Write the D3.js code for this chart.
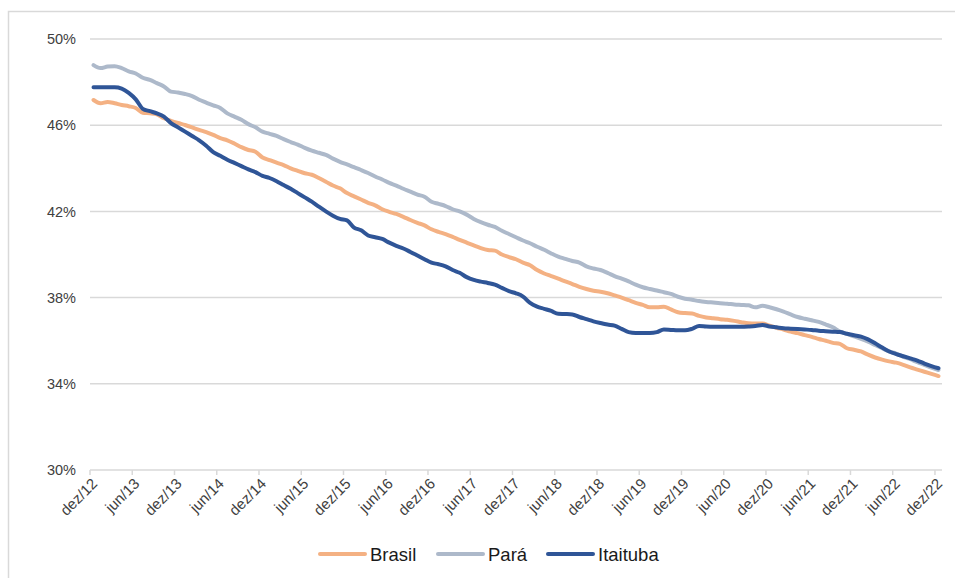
<!DOCTYPE html>
<html>
<head>
<meta charset="utf-8">
<script src="https://cdn.jsdelivr.net/npm/d3@7"></script>
<style>
  body { margin: 0; background: #fff; }
  svg { display: block; font-family: "Liberation Sans", Arial, sans-serif; }
</style>
</head>
<body>
<svg id="chart" width="955" height="578"></svg>
<script>
// monthly values, dez/12 .. dez/22 (121 months), in %
var brasil = [
  47.17, 47.02, 47.08, 47.02, 46.94, 46.88, 46.80, 46.58, 46.55, 46.50,
  46.32, 46.20, 46.10, 46.01, 45.90, 45.78, 45.68, 45.55, 45.40, 45.30,
  45.15, 44.98, 44.85, 44.77, 44.50, 44.38, 44.26, 44.15, 44.00, 43.88,
  43.77, 43.70, 43.55, 43.38, 43.20, 43.07, 42.85, 42.70, 42.55, 42.40,
  42.28, 42.10, 41.98, 41.88, 41.75, 41.60, 41.47, 41.35, 41.17, 41.05,
  40.95, 40.82, 40.68, 40.55, 40.42, 40.30, 40.21, 40.18, 40.00, 39.88,
  39.78, 39.62, 39.50, 39.28, 39.12, 39.00, 38.88, 38.75, 38.63, 38.50,
  38.40, 38.32, 38.27, 38.20, 38.10, 38.00, 37.88, 37.76, 37.66, 37.55,
  37.55, 37.58, 37.45, 37.32, 37.28, 37.26, 37.15, 37.08, 37.04, 37.00,
  36.97, 36.92, 36.86, 36.81, 36.80, 36.80, 36.70, 36.60, 36.52, 36.42,
  36.35, 36.26, 36.18, 36.08, 36.00, 35.90, 35.85, 35.65, 35.58, 35.50,
  35.35, 35.22, 35.12, 35.04, 34.98, 34.88, 34.76, 34.66, 34.56, 34.46,
  34.36
];
var para = [
  48.79, 48.65, 48.72, 48.74, 48.65, 48.50, 48.40, 48.20, 48.10, 47.95,
  47.80, 47.56, 47.52, 47.45, 47.35, 47.18, 47.05, 46.92, 46.80, 46.55,
  46.40, 46.25, 46.05, 45.90, 45.70, 45.60, 45.50, 45.35, 45.22, 45.10,
  44.95, 44.82, 44.72, 44.62, 44.45, 44.30, 44.18, 44.05, 43.92, 43.78,
  43.62, 43.48, 43.32, 43.20, 43.05, 42.92, 42.78, 42.68, 42.45, 42.35,
  42.25, 42.10, 42.00, 41.85, 41.65, 41.50, 41.38, 41.28, 41.10, 40.95,
  40.80, 40.65, 40.52, 40.36, 40.22, 40.05, 39.90, 39.80, 39.70, 39.62,
  39.45, 39.35, 39.28, 39.15, 39.00, 38.88, 38.75, 38.60, 38.48, 38.40,
  38.33, 38.25, 38.17, 38.04, 37.95, 37.90, 37.84, 37.80, 37.77, 37.74,
  37.72, 37.68, 37.66, 37.64, 37.55, 37.62, 37.55, 37.46, 37.35, 37.22,
  37.10, 37.02, 36.95, 36.87, 36.75, 36.62, 36.42, 36.32, 36.20, 36.08,
  35.95, 35.80, 35.65, 35.50, 35.40, 35.25, 35.14, 35.00, 34.88, 34.75,
  34.64
];
var itaituba = [
  47.76, 47.76, 47.76, 47.76, 47.70, 47.50, 47.20, 46.76, 46.65, 46.55,
  46.40, 46.10, 45.90, 45.70, 45.50, 45.30, 45.05, 44.75, 44.58, 44.40,
  44.25, 44.10, 43.95, 43.82, 43.65, 43.55, 43.40, 43.22, 43.05, 42.85,
  42.65, 42.45, 42.22, 42.00, 41.80, 41.65, 41.58, 41.25, 41.12, 40.88,
  40.80, 40.72, 40.55, 40.40, 40.28, 40.12, 39.95, 39.78, 39.62, 39.55,
  39.45, 39.28, 39.15, 38.95, 38.82, 38.74, 38.68, 38.60, 38.45, 38.30,
  38.20, 38.05, 37.75, 37.58, 37.48, 37.38, 37.25, 37.24, 37.22, 37.10,
  37.00, 36.90, 36.82, 36.75, 36.70, 36.55, 36.40, 36.36, 36.36, 36.36,
  36.40, 36.52, 36.50, 36.48, 36.48, 36.55, 36.68, 36.66, 36.65, 36.65,
  36.65, 36.65, 36.65, 36.66, 36.68, 36.73, 36.66, 36.62, 36.58, 36.56,
  36.54, 36.52, 36.50, 36.46, 36.44, 36.42, 36.40, 36.32, 36.25, 36.19,
  36.06, 35.88, 35.68, 35.50, 35.38, 35.28, 35.18, 35.08, 34.94, 34.82,
  34.72
];
var tickLabels = ["dez/12","jun/13","dez/13","jun/14","dez/14","jun/15","dez/15",
  "jun/16","dez/16","jun/17","dez/17","jun/18","dez/18","jun/19","dez/19",
  "jun/20","dez/20","jun/21","dez/21","jun/22","dez/22"];
var yTicks = [30, 34, 38, 42, 46, 50];

var series = [
  {name: "Brasil", values: brasil, color: "#f4b183"},
  {name: "Pará", values: para, color: "#adb9ca"},
  {name: "Itaituba", values: itaituba, color: "#2f5597"}
];

var svg = d3.select("#chart");
var plotLeft = 90, plotRight = 942, plotTop = 39, plotBottom = 470;
var n = brasil.length;

// outer frame
svg.append("rect")
  .attr("x", 8.5).attr("y", 11.5)
  .attr("width", 970).attr("height", 600)
  .attr("fill", "none").attr("stroke", "#d9d9d9").attr("stroke-width", 1.5);

var x = d3.scaleBand().domain(d3.range(n)).range([plotLeft, plotRight]);
var y = d3.scaleLinear().domain([30, 50]).range([plotBottom, plotTop]);

// grid
svg.append("g").selectAll("line")
  .data(yTicks)
  .enter().append("line")
  .attr("x1", plotLeft).attr("x2", plotRight)
  .attr("y1", function(d){ return y(d); })
  .attr("y2", function(d){ return y(d); })
  .attr("stroke", "#d9d9d9").attr("stroke-width", 1.5);

svg.append("g").selectAll("text")
  .data(yTicks)
  .enter().append("text")
  .attr("x", 76)
  .attr("y", function(d){ return y(d); })
  .attr("dy", "0.36em")
  .attr("text-anchor", "end")
  .attr("font-size", 14.5)
  .attr("fill", "#404040")
  .text(function(d){ return d + "%"; });

// x ticks, every 6 months
var tickIdx = tickLabels.map(function(d, k){ return k * 6; });
svg.append("g").selectAll("line")
  .data(tickIdx)
  .enter().append("line")
  .attr("x1", function(d){ return x(d); })
  .attr("x2", function(d){ return x(d); })
  .attr("y1", plotBottom).attr("y2", plotBottom + 5)
  .attr("stroke", "#d9d9d9").attr("stroke-width", 1.5);

svg.append("g").selectAll("text")
  .data(tickIdx)
  .enter().append("text")
  .attr("transform", function(d){
    return "translate(" + (x(d) + x.bandwidth() / 2 + 1) + "," + (plotBottom + 11) + ") rotate(-45)";
  })
  .attr("text-anchor", "end")
  .attr("dy", "0.35em")
  .attr("font-size", 15)
  .attr("fill", "#404040")
  .text(function(d, k){ return tickLabels[k]; });

// lines
var line = d3.line()
  .x(function(d, i){ return x(i) + x.bandwidth() / 2; })
  .y(function(d){ return y(d); })
  .curve(d3.curveMonotoneX);

svg.append("g").selectAll("path")
  .data(series)
  .enter().append("path")
  .attr("d", function(s){ return line(s.values); })
  .attr("fill", "none")
  .attr("stroke", function(s){ return s.color; })
  .attr("stroke-width", 4)
  .attr("stroke-linejoin", "round")
  .attr("stroke-linecap", "round");

// legend
var legendX = [320, 438, 548];
var lg = svg.append("g").selectAll("g")
  .data(series)
  .enter().append("g")
  .attr("transform", function(s, i){ return "translate(" + legendX[i] + ",554)"; });
lg.append("line")
  .attr("x1", 0).attr("x2", 45)
  .attr("stroke", function(s){ return s.color; })
  .attr("stroke-width", 4).attr("stroke-linecap", "round");
lg.append("text")
  .attr("x", 50).attr("dy", "0.36em")
  .attr("font-size", 18.5)
  .attr("fill", "#1a1a1a")
  .text(function(s){ return s.name; });
</script>
</body>
</html>
